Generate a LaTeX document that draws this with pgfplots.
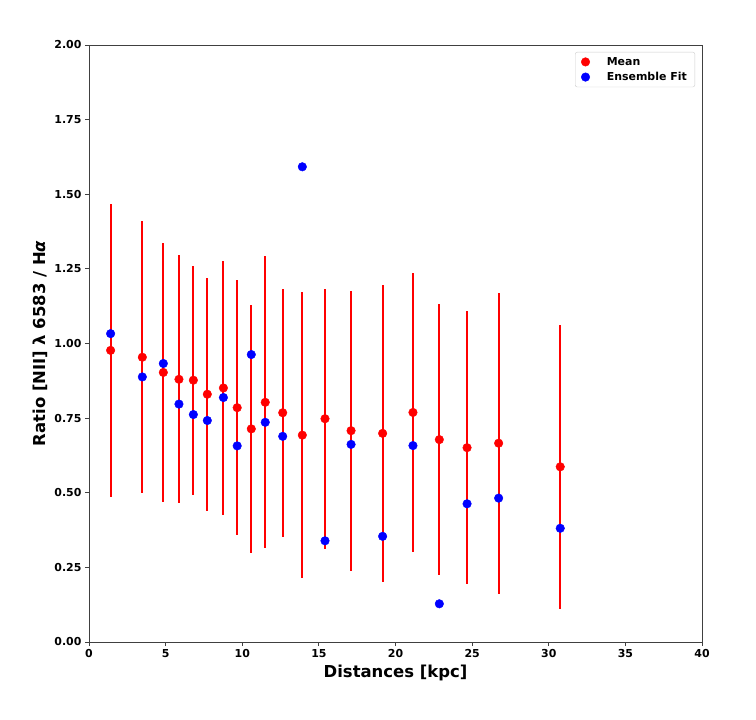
\documentclass[border=0pt]{standalone}
\usepackage{fontspec}
\setmainfont{DejaVu Sans}
\usepackage{pgfplots}
\usepackage{pgfplotstable}
\pgfplotsset{compat=1.18}

\pgfplotstableread{
x y e
1.41 0.977 0.491
3.48 0.954 0.455
4.85 0.903 0.433
5.87 0.880 0.416
6.81 0.877 0.383
7.72 0.830 0.391
8.77 0.851 0.426
9.67 0.785 0.428
10.59 0.714 0.415
11.50 0.803 0.489
12.64 0.768 0.415
13.92 0.693 0.480
15.40 0.748 0.435
17.10 0.708 0.469
19.16 0.699 0.497
21.14 0.769 0.467
22.86 0.678 0.453
24.67 0.651 0.457
26.73 0.666 0.504
30.75 0.587 0.475
}\meandata

\pgfplotstableread{
x y
1.41 1.033
3.48 0.888
4.85 0.933
5.87 0.797
6.81 0.762
7.72 0.742
8.77 0.819
9.67 0.657
10.59 0.963
11.50 0.736
12.64 0.689
13.92 1.592
15.40 0.339
17.10 0.662
19.16 0.354
21.14 0.658
22.86 0.128
24.67 0.463
26.73 0.482
30.75 0.381
}\ensdata

\begin{document}
\begin{tikzpicture}
\begin{axis}[name=ax, scale only axis, width=613bp, height=597bp,
  xmin=0, xmax=40, ymin=0, ymax=2,
  xtick={0,5,...,40}, ytick={0,0.25,...,2},
  yticklabel style={/pgf/number format/.cd, fixed, fixed zerofill, precision=2},
  /pgf/number format/assume math mode=true,
  tick label style={font=\fontsize{11}{13}\selectfont\bfseries},
  tick align=outside, tick pos=left, major tick length=4bp,
  every tick/.style={black!75, line width=0.8bp},
  axis line style={black!75, line width=0.8bp},
  xlabel={Distances [kpc]},
  ylabel={Ratio [NII] λ 6583 / H\textit{α}},
  label style={font=\fontsize{16.5}{19}\selectfont\bfseries},
  legend style={at={(1,1)}, anchor=north east, xshift=-7bp, yshift=-7bp,
    draw=black!20, rounded corners=2bp, font=\fontsize{11}{14}\selectfont\bfseries,
    cells={anchor=west}, inner xsep=6bp, inner ysep=3bp, column sep=15bp, row sep=1.5bp},
  legend cell align=left,
  clip=false,
]
\addplot[only marks, mark=*, mark size=4.3bp, red, mark options={draw=red, fill=red},
  error bars/.cd, y dir=both, y explicit, error mark=none,
  error bar style={red, line width=2bp}]
  table[x=x, y=y, y error=e]{\meandata};
\addlegendentry{Mean}
\addplot[only marks, mark=*, mark size=4.3bp, blue, mark options={draw=blue, fill=blue}]
  table[x=x, y=y]{\ensdata};
\addlegendentry{Ensemble Fit}
\end{axis}
\pgfresetboundingbox
\path ([shift={(-89bp,-78bp)}]ax.south west) rectangle ([shift={(54bp,45bp)}]ax.north east);
\end{tikzpicture}
\end{document}
